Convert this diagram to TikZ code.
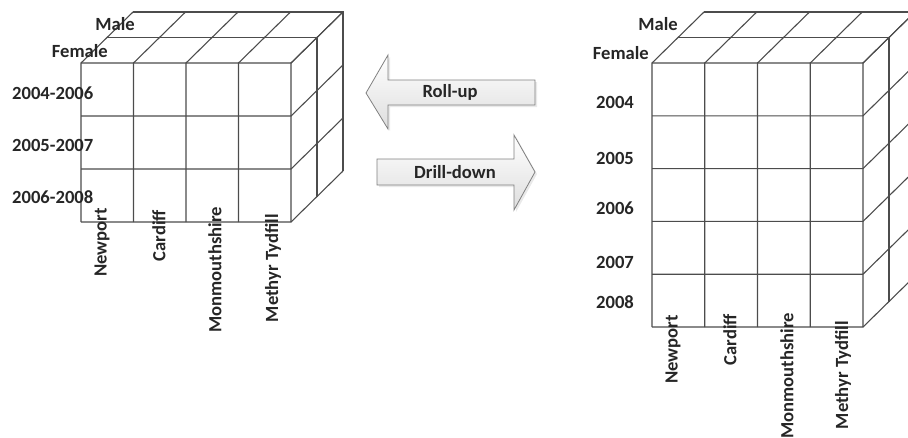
\documentclass[tikz,border=0pt]{standalone}
\usepackage{fontspec}
\setmainfont{Carlito}
% Draws an OLAP cube: front-face origin (#1,#2), column width #3,
% row height #4, number of rows #5; four columns and two layers deep.
\newcommand\olapcube[5]{%
  % front rows, continued as diagonals across the right face
  \foreach \i in {0,...,#5} {
    \draw[gridline] (#1,#2+\i*#4) -- ++(4*#3,0) -- ++(52,-51);
  }
  % front columns, continued as diagonals across the top face
  \foreach \j in {0,...,4} {
    \draw[gridline] (#1+\j*#3,#2+#5*#4) -- ++(0,-#5*#4) -- ++(52,-51);
  }
  % the two back layers: top edge and right edge
  \foreach \k in {1,2} {
    \draw[gridline] (#1+\k*26,#2-\k*25.5) -- ++(4*#3,0) -- ++(0,#5*#4);
  }
}
\begin{document}
\begin{tikzpicture}[x=1pt,y=-1pt,
  gridline/.style={draw=black!70, line width=1.1pt},
  lbl/.style={font=\fontsize{18.6}{21}\selectfont\bfseries, text=black!85, inner sep=0pt},
  vlbl/.style={lbl, rotate=90, anchor=east},
  rowlbl/.style={lbl, anchor=west},
  dimlbl/.style={lbl, anchor=east},
  blockarrow/.style={draw=black!50, line width=0.8pt, top color=white, bottom color=black!13},
  arrowshadow/.style={fill=black!25, opacity=0.35},
  ]
\useasboundingbox (0,0) rectangle (908,437);
\clip (0,0) rectangle (908,437);

% ---------- aggregated cube (three-year periods) ----------
\olapcube{81}{63}{52.5}{53}{3}
\node[dimlbl] (lmale)   at (135,24) {Male};
\node[dimlbl] (lfemale) at (108,51) {Female};
\node[rowlbl] (lr1) at (12,93)    {2004-2006};
\node[rowlbl] (lr2) at (12,145.5) {2005-2007};
\node[rowlbl] (lr3) at (12,197.5) {2006-2008};
\node[vlbl] (lc1) at (102,208) {Newport};
\node[vlbl] (lc2) at (159,210) {Cardiff};
\node[vlbl] (lc3) at (215,207) {Monmouthshire};
\node[vlbl] (lc4) at (273,214) {Methyr Tydfill};

% ---------- detailed cube (single years) ----------
\olapcube{652}{63}{52.75}{52.8}{5}
\node[dimlbl] (rmale)   at (678,24) {Male};
\node[dimlbl] (rfemale) at (649,53) {Female};
\node[rowlbl] (rr1) at (596,102) {2004};
\node[rowlbl] (rr2) at (596,158) {2005};
\node[rowlbl] (rr3) at (596,208) {2006};
\node[rowlbl] (rr4) at (596,262.5) {2007};
\node[rowlbl] (rr5) at (596,302) {2008};
\node[vlbl] (rc1) at (673,315) {Newport};
\node[vlbl] (rc2) at (730,314) {Cardiff};
\node[vlbl] (rc3) at (787,313) {Monmouthshire};
\node[vlbl] (rc4) at (843,321) {Methyr Tydfill};

% ---------- operation arrows ----------
\fill[arrowshadow, xshift=2pt, yshift=-2pt]
  (366,93) -- (388,55) -- (388,80) -- (535,80) -- (535,105) -- (388,105) -- (388,129) -- cycle;
\path[blockarrow]
  (366,93) -- (388,55) -- (388,80) -- (535,80) -- (535,105) -- (388,105) -- (388,129) -- cycle;
\node[lbl] (rollup) at (450,92) {Roll-up};

\fill[arrowshadow, xshift=2pt, yshift=-2pt]
  (535,172) -- (514,135) -- (514,159) -- (377,159) -- (377,185) -- (514,185) -- (514,210) -- cycle;
\path[blockarrow]
  (535,172) -- (514,135) -- (514,159) -- (377,159) -- (377,185) -- (514,185) -- (514,210) -- cycle;
\node[lbl] (drilldown) at (455,172) {Drill-down};
\end{tikzpicture}
\end{document}
